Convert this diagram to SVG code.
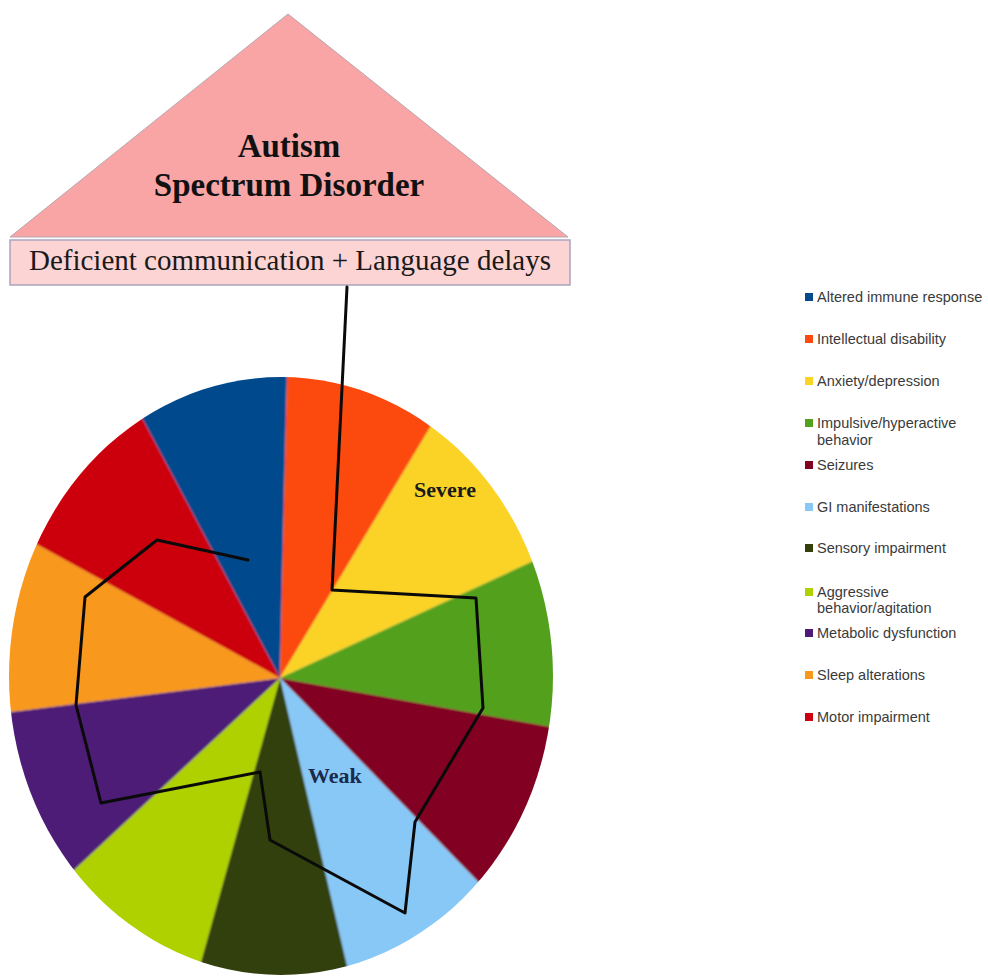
<svg xmlns="http://www.w3.org/2000/svg" width="988" height="978" viewBox="0 0 988 978">
<defs>
<style>
.title{font-family:"Liberation Serif","Times New Roman",serif;font-weight:bold;font-size:33px;fill:#111;text-anchor:middle}
.sub{font-family:"Liberation Serif","Times New Roman",serif;font-size:29px;fill:#1a1a1a;text-anchor:middle}
.lvl{font-family:"Liberation Serif","Times New Roman",serif;font-weight:bold;font-size:22px}
.lg{font-family:"Liberation Sans",Arial,sans-serif;font-size:14.5px;fill:#3a3a3a}
.trace{fill:none;stroke:#0a0a0a;stroke-width:3;stroke-linejoin:round;stroke-linecap:round}
</style>
<clipPath id="pieClip"><ellipse cx="281" cy="676" rx="272" ry="299"/></clipPath>
<filter id="soft" x="-5%" y="-5%" width="110%" height="110%"><feGaussianBlur stdDeviation="0.9"/></filter>
</defs>
<rect width="988" height="978" fill="#ffffff"/>

<g id="node-asd">
<polygon points="288,14 10,237 568,237" fill="#f9a5a5" stroke="#b8a6b0" stroke-width="1"/>
<text class="title" x="289" y="157">Autism</text>
<text class="title" x="289" y="196">Spectrum Disorder</text>
</g>

<g id="node-communication">
<rect x="10" y="240" width="560" height="45" fill="#fcd4d4" stroke="#aaa4be" stroke-width="1.5"/>
<text class="sub" x="290" y="270">Deficient communication + Language delays</text>
</g>

<g id="pie" clip-path="url(#pieClip)" filter="url(#soft)">
<polygon points="280,678 6,162 294,76" fill="#054a8c"/>
<polygon points="280,678 294,76 576,184" fill="#fc4a10"/>
<polygon points="280,678 576,184 778,448" fill="#fad326"/>
<polygon points="280,678 778,448 812,774" fill="#52a01e"/>
<polygon points="280,678 812,774 676,1086" fill="#820020"/>
<polygon points="280,678 676,1086 416,1262" fill="#88c8f7"/>
<polygon points="280,678 416,1262 120,1252" fill="#33400c"/>
<polygon points="280,678 120,1252 -136,1066" fill="#afd102"/>
<polygon points="280,678 -136,1066 -260,746" fill="#4d1c77"/>
<polygon points="280,678 -260,746 -204,412" fill="#f8981a"/>
<polygon points="280,678 -204,412 6,162" fill="#cc0010"/>
</g>

<g id="labels">
<text class="lvl" x="414" y="497" fill="#1a1a1a">Severe</text>
<text class="lvl" x="308" y="783" fill="#1b2a4a">Weak</text>
</g>

<g id="connectors">
<polyline class="trace" points="347,287 332,590 476,598 483,708 415,822 405,913 270,840 260,772 101,803 76,705 85,597 157,540 248,560"/>
</g>

<g id="legend">
<g id="lg-immune"><rect x="805" y="293" width="8" height="8" fill="#054a8c"/><text class="lg" x="817" y="302">Altered immune response</text></g>
<g id="lg-intellectual"><rect x="805" y="335" width="8" height="8" fill="#fc4a10"/><text class="lg" x="817" y="344">Intellectual disability</text></g>
<g id="lg-anxiety"><rect x="805" y="377" width="8" height="8" fill="#fad326"/><text class="lg" x="817" y="386">Anxiety/depression</text></g>
<g id="lg-impulsive"><rect x="805" y="419" width="8" height="8" fill="#52a01e"/><text class="lg" x="817" y="428">Impulsive/hyperactive</text><text class="lg" x="817" y="445">behavior</text></g>
<g id="lg-seizures"><rect x="805" y="461" width="8" height="8" fill="#820020"/><text class="lg" x="817" y="470">Seizures</text></g>
<g id="lg-gi"><rect x="805" y="503" width="8" height="8" fill="#88c8f7"/><text class="lg" x="817" y="512">GI manifestations</text></g>
<g id="lg-sensory"><rect x="805" y="544" width="8" height="8" fill="#33400c"/><text class="lg" x="817" y="553">Sensory impairment</text></g>
<g id="lg-aggressive"><rect x="805" y="588" width="8" height="8" fill="#afd102"/><text class="lg" x="817" y="597">Aggressive</text><text class="lg" x="817" y="613">behavior/agitation</text></g>
<g id="lg-metabolic"><rect x="805" y="629" width="8" height="8" fill="#4d1c77"/><text class="lg" x="817" y="638">Metabolic dysfunction</text></g>
<g id="lg-sleep"><rect x="805" y="671" width="8" height="8" fill="#f8981a"/><text class="lg" x="817" y="680">Sleep alterations</text></g>
<g id="lg-motor"><rect x="805" y="713" width="8" height="8" fill="#cc0010"/><text class="lg" x="817" y="722">Motor impairment</text></g>
</g>
</svg>
